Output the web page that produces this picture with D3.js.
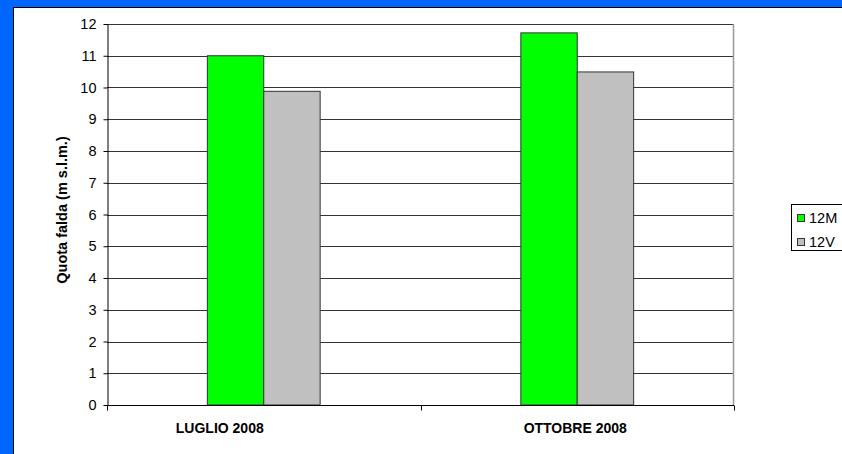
<!DOCTYPE html>
<html>
<head>
<meta charset="utf-8">
<script src="https://cdn.jsdelivr.net/npm/d3@7"></script>
<style>
  body { margin: 0; background: #0066ff; }
  svg { display: block; font-family: "Liberation Sans", Arial, sans-serif; }
</style>
</head>
<body>
<svg id="chart" width="842" height="454"></svg>
<script>
var categories = ["LUGLIO 2008", "OTTOBRE 2008"];
var seriesNames = ["12M", "12V"];
var seriesColors = ["#00ff00", "#c0c0c0"];
var values12M = [11.0, 11.72];
var values12V = [9.88, 10.49];
var yTicks = [0, 1, 2, 3, 4, 5, 6, 7, 8, 9, 10, 11, 12];

var svg = d3.select("#chart");

// blue frame + white panel
svg.append("rect").attr("width", 842).attr("height", 454).attr("fill", "#0066ff");
svg.append("rect")
    .attr("x", 13.5).attr("y", 7.5).attr("width", 840).attr("height", 460)
    .attr("fill", "#fff").attr("stroke", "#000").attr("stroke-width", 1);

var plotLeft = 107, plotTop = 24, plotRight = 734, plotBottom = 405;

var x = d3.scaleBand().domain(categories).range([plotLeft, plotRight]);
var x1 = d3.scaleBand().domain(seriesNames).range([0, 112.8]);
var y = d3.scaleLinear().domain([0, 12]).range([plotBottom, plotTop]);

// gridlines
svg.append("g").selectAll("line")
    .data(yTicks.slice(1))
    .enter().append("line")
    .attr("x1", plotLeft).attr("x2", plotRight)
    .attr("y1", function(d) { return Math.round(y(d)) + 0.5; })
    .attr("y2", function(d) { return Math.round(y(d)) + 0.5; })
    .attr("stroke", "#333").attr("stroke-width", 1);

// right border of plot area
svg.append("line")
    .attr("x1", plotRight - 0.5).attr("x2", plotRight - 0.5)
    .attr("y1", plotTop).attr("y2", plotBottom)
    .attr("stroke", "#999").attr("stroke-width", 1.5);

// bars
var data = categories.map(function(c, i) {
    return [{ s: "12M", v: values12M[i], c: c }, { s: "12V", v: values12V[i], c: c }];
});

var groups = svg.append("g").selectAll("g")
    .data(data)
    .enter().append("g")
    .attr("transform", function(d, i) {
        return "translate(" + (x(categories[i]) + x.bandwidth() / 2 - 56.4) + ",0)";
    });

groups.selectAll("rect")
    .data(function(d) { return d; })
    .enter().append("rect")
    .attr("x", function(d) { return x1(d.s); })
    .attr("y", function(d) { return y(d.v); })
    .attr("width", x1.bandwidth())
    .attr("height", function(d) { return plotBottom - y(d.v); })
    .attr("fill", function(d) { return seriesColors[seriesNames.indexOf(d.s)]; })
    .attr("stroke", "#333").attr("stroke-width", 1);

// y axis
var yAxis = svg.append("g")
    .attr("transform", "translate(" + (plotLeft + 0.5) + ",0)")
    .call(d3.axisLeft(y).tickValues(yTicks).tickSize(4).tickPadding(7).tickSizeOuter(0));
yAxis.attr("font-size", 14.5).attr("font-family", "Liberation Sans, Arial, sans-serif");
yAxis.select(".domain").attr("stroke", "#000");
yAxis.selectAll("line").attr("stroke", "#000");
yAxis.selectAll("text").attr("fill", "#000");

// x axis
var xAxis = svg.append("g").attr("transform", "translate(0," + (plotBottom + 0.5) + ")");
xAxis.append("line")
    .attr("x1", plotLeft).attr("x2", plotRight)
    .attr("stroke", "#000");
xAxis.selectAll(".tk")
    .data([plotLeft, plotLeft + x.bandwidth(), plotRight])
    .enter().append("line")
    .attr("x1", function(d) { return Math.round(d) + 0.5; })
    .attr("x2", function(d) { return Math.round(d) + 0.5; })
    .attr("y1", 0).attr("y2", 5)
    .attr("stroke", "#000");

var labelShift = [-44, -2];
xAxis.selectAll("text")
    .data(categories)
    .enter().append("text")
    .attr("x", function(d, i) { return x(d) + x.bandwidth() / 2 + labelShift[i]; })
    .attr("y", 27.5)
    .attr("text-anchor", "middle")
    .attr("font-size", 14).attr("font-weight", "bold")
    .text(function(d) { return d; });

// y title
svg.append("text")
    .attr("transform", "translate(67,210) rotate(-90)")
    .attr("text-anchor", "middle")
    .attr("font-size", 14.5).attr("font-weight", "bold")
    .text("Quota falda (m s.l.m.)");

// legend
var lg = svg.append("g").attr("transform", "translate(791,204)");
lg.append("rect")
    .attr("x", 0.5).attr("y", 0.5).attr("width", 60).attr("height", 46)
    .attr("fill", "#fff").attr("stroke", "#000");
seriesNames.forEach(function(s, i) {
    lg.append("rect")
        .attr("x", 6.5).attr("y", 10.5 + i * 24).attr("width", 7).attr("height", 7)
        .attr("fill", seriesColors[i]).attr("stroke", "#333");
    lg.append("text")
        .attr("x", 18).attr("y", 19 + i * 24)
        .attr("font-size", 14.5)
        .text(s);
});
</script>
</body>
</html>
